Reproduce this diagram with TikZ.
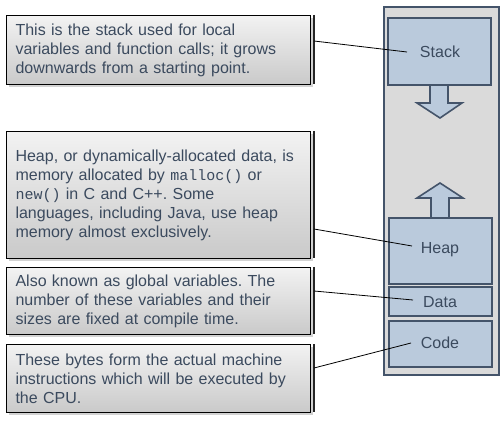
\documentclass[tikz,border=0pt]{standalone}
\usepackage{fontspec}
\setmainfont{Liberation Sans}
\setmonofont{Liberation Mono}
\usetikzlibrary{shadows}
\definecolor{txt}{HTML}{3B4A5E}
\definecolor{slate}{HTML}{44546A}
\definecolor{blk}{HTML}{BACADC}
\definecolor{colbg}{HTML}{DADADA}
\begin{document}
\frenchspacing
\begin{tikzpicture}[x=1pt,y=-1pt,
  note/.style={draw=black, line width=1.1pt, top color=gray!10, bottom color=gray!42,
    drop shadow={shadow xshift=2pt, shadow yshift=-2pt, fill=gray!70},
    anchor=north west, inner xsep=9pt, inner ysep=0pt, text width=286pt, align=left,
    minimum width=296pt, font=\fontsize{16}{19}\selectfont, text=txt},
  bar/.style={draw=black!85, line width=1.6pt},
  link/.style={draw=black, line width=0.8pt},
  seg/.style={draw=slate, line width=1.6pt, fill=blk, anchor=north west,
    minimum width=103pt, drop shadow={shadow xshift=1.5pt, shadow yshift=-1.5pt, fill=gray!60},
    font=\fontsize{16}{19}\selectfont, text=txt},
  seglabel/.style={font=\fontsize{16}{19}\selectfont, text=txt},
  growarrow/.style={draw=slate, line width=1.6pt, fill=blk, line join=miter}]
\useasboundingbox (0,0) rectangle (501,422);

% memory column
\node[draw=slate, fill=colbg, line width=1.6pt, anchor=north west,
  minimum width=115pt, minimum height=368pt,
  drop shadow={shadow xshift=1.5pt, shadow yshift=-1.5pt, fill=gray!50}] (mem) at (383,6) {};

% grow arrows
\draw[growarrow] (430,83) -- (430,103) -- (417,103) -- (440,118) -- (462,103) -- (448,103) -- (448,83);
\draw[growarrow] (431,218) -- (431,198) -- (417,198) -- (440,183) -- (463,198) -- (449,198) -- (449,218);

\node[seg, minimum height=67pt] (stack) at (387,17) {};
\node[seg, minimum height=66pt] (heap) at (388,217) {};
\node[seg, minimum height=29pt] (data) at (388,286) {};
\node[seg, minimum height=46pt] (code) at (388,320) {};
\node[seglabel] (stackl) at (440,52) {Stack};
\node[seglabel] (heapl) at (440,250) {Heap};
\node[seglabel] (datal) at (440,302) {Data};
\node[seglabel] (codel) at (440,343) {Code};

% notes
\node[note, minimum height=69pt] (n1) at (6,15)
  {This is the stack used for local\\variables and function calls; it grows\\downwards from a starting point.};
\node[note, minimum height=127pt] (n2) at (6,131)
  {Heap, or dynamically-allocated data, is\\memory allocated by {\ttfamily\fontsize{15}{19}\selectfont malloc()} or\\{\ttfamily\fontsize{15}{19}\selectfont new()} in C and C++. Some\\languages, including Java, use heap\\memory almost exclusively.};
\node[note, minimum height=67pt] (n3) at (6,267)
  {Also known as global variables. The\\number of these variables and their\\sizes are fixed at compile time.};
\node[note, minimum height=68pt] (n4) at (6,344)
  {These bytes form the actual machine\\instructions which will be executed by\\the CPU.};

% bars
\coordinate (b1t) at (314,15); \coordinate (b1b) at (314,84);
\coordinate (b2t) at (314,131); \coordinate (b2b) at (314,258);
\coordinate (b3t) at (314,267); \coordinate (b3b) at (314,334);
\coordinate (b4t) at (314,344); \coordinate (b4b) at (314,412);
\draw[bar] (b1t) -- (b1b);
\draw[bar] (b2t) -- (b2b);
\draw[bar] (b3t) -- (b3b);
\draw[bar] (b4t) -- (b4b);

% links
\coordinate (l1) at (314,41); \coordinate (e1) at (407,52);
\coordinate (l2) at (314,229); \coordinate (e2) at (412,246);
\coordinate (l3) at (314,291); \coordinate (e3) at (413,300);
\coordinate (l4) at (314,368); \coordinate (e4) at (411,343);
\draw[link] (l1) -- (e1);
\draw[link] (l2) -- (e2);
\draw[link] (l3) -- (e3);
\draw[link] (l4) -- (e4);
\end{tikzpicture}
\end{document}
